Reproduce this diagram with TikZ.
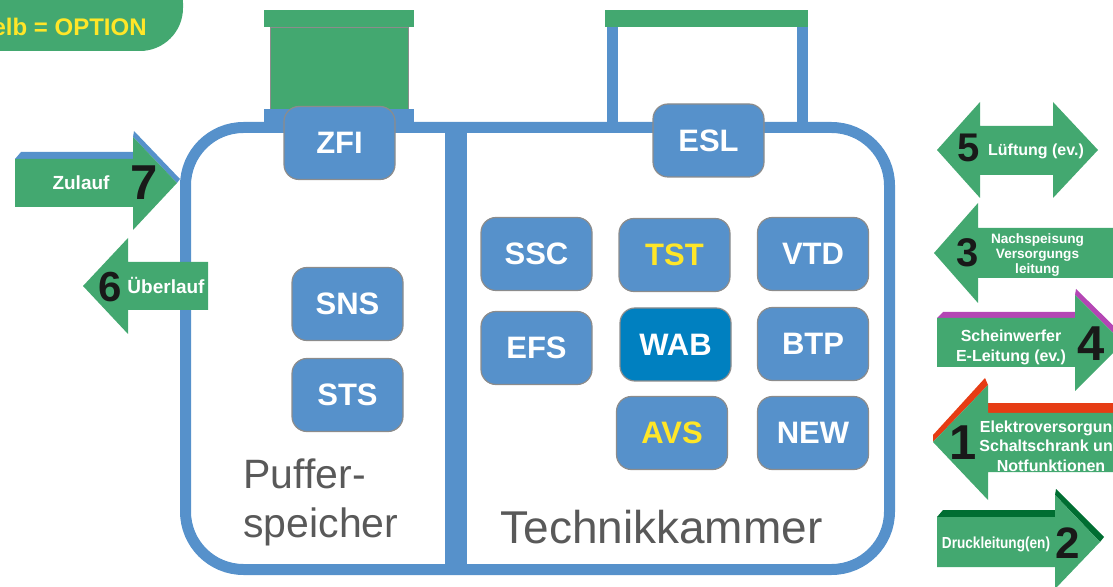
\documentclass[tikz,border=0pt]{standalone}
\usepackage{fontspec}
\setmainfont{Liberation Sans}
\definecolor{hullblue}{RGB}{86,145,203}
\definecolor{wabblue}{RGB}{0,128,192}
\definecolor{pipegreen}{RGB}{67,168,112}
\definecolor{optyellow}{RGB}{255,230,40}
\definecolor{labelgray}{RGB}{89,89,89}
\definecolor{edgegray}{RGB}{140,140,140}
\definecolor{lilac}{RGB}{180,70,180}
\definecolor{rust}{RGB}{230,60,20}
\definecolor{darkgreen}{RGB}{0,110,50}
\newcommand{\groesse}[1]{\fontsize{#1}{#1}\selectfont}

\begin{document}
\begin{tikzpicture}[x=0.5pt, y=-0.5pt,
	kasten/.style={rounded corners=7.5pt, fill=hullblue, draw=edgegray, line width=0.6pt,
		minimum width=55.5pt, minimum height=36.5pt, inner sep=0pt, text=white,
		font=\bfseries\groesse{15.5}},
	ziffer/.style={inner sep=0pt, text=black!90, font=\bfseries\groesse{24.5}},
	schrift/.style={inner sep=0pt, text=white, align=center, font=\bfseries\fontsize{8}{9.8}\selectfont},
	raum/.style={inner sep=0pt, anchor=base west, text=labelgray, font=\groesse{20.5}}]
	\useasboundingbox (0,0) rectangle (1113,587);
% LEGENDE
	\fill [pipegreen, rounded corners=21.5pt] (-40,-40) rectangle (183,51);
	\node [inner sep=0pt, anchor=east, text=optyellow, font=\bfseries\groesse{12}] (legende) at (147,27) {Gelb = OPTION};
% AUFBAUTEN
	\fill [pipegreen] (264,10) rectangle (414,27);
	\filldraw [fill=pipegreen, draw=edgegray, line width=0.4pt] (270,27) rectangle (408,109);
	\fill [hullblue] (264,109) rectangle (414,127);
	\fill [pipegreen] (605,10) rectangle (808,27);
	\fill [hullblue] (607,27) rectangle (618,127);
	\fill [hullblue] (797,27) rectangle (808,127);
% GEHAEUSE
	\draw [hullblue, line width=5.5pt, rounded corners=29pt] (185.5,127.5) rectangle (889.5,569.5);
	\fill [hullblue] (445,127.5) rectangle (467,569.5);
	\node [raum] (puffer) at (243,488) {Puffer-};
	\node [raum] (speicher) at (243,537) {speicher};
	\node [raum, font=\groesse{23}] (technik) at (500,543) {Technikkammer};
% MODULE
	\node [kasten] (zfi) at (339.5,143) {ZFI};
	\node [kasten] (esl) at (708.5,140.5) {ESL};
	\node [kasten] (sns) at (347.5,304) {SNS};
	\node [kasten] (sts) at (347.5,395) {STS};
	\node [kasten] (ssc) at (536.5,254) {SSC};
	\node [kasten, text=optyellow] (tst) at (674.5,255) {TST};
	\node [kasten] (vtd) at (813,254) {VTD};
	\node [kasten] (efs) at (536.5,348) {EFS};
	\node [kasten, fill=wabblue] (wab) at (675.5,344.5) {WAB};
	\node [kasten] (btp) at (813,344) {BTP};
	\node [kasten, text=optyellow] (avs) at (672,433) {AVS};
	\node [kasten] (new) at (813,433) {NEW};
% ANSCHLUESSE LINKS
	\fill [hullblue] (15,159) -- (21,152) -- (133,152) -- (133,159) -- cycle;
	\fill [hullblue] (133,137) -- (134,131) -- (180,179) -- (177,183) -- cycle;
	\fill [pipegreen] (15,159) -- (133,159) -- (133,137) -- (177,183) -- (133,230) -- (133,207) -- (15,207) -- cycle;
	\node [schrift, font=\bfseries\groesse{9.5}] (zulauf) at (81,183) {Zulauf};
	\node [ziffer] (n7) at (144,183) {7};
	\fill [pipegreen] (83,286) -- (128,238) -- (128,262) -- (208,262) -- (208,310) -- (128,310) -- (128,334) -- cycle;
	\node [ziffer, font=\bfseries\groesse{21}] (n6) at (110,287) {6};
	\node [schrift, font=\bfseries\groesse{9.5}] (ueberlauf) at (166,285) {Überlauf};
% ANSCHLUESSE RECHTS
	\fill [pipegreen] (937,150) -- (980,102) -- (980,126) -- (1053,126) -- (1053,102) -- (1098,150) -- (1053,198) -- (1053,175) -- (980,175) -- (980,198) -- cycle;
	\node [ziffer, font=\bfseries\groesse{20}] (n5) at (969,148) {5};
	\node [schrift] (lueftung) at (1036,151) {Lüftung (ev.)};
	\fill [pipegreen] (934,253) -- (978,203) -- (978,228) -- (1120,228) -- (1120,278) -- (978,278) -- (978,303) -- cycle;
	\node [ziffer, font=\bfseries\groesse{20}] (n3) at (968,253) {3};
	\node [schrift, font=\bfseries\fontsize{6.8}{7.6}\selectfont] (nachspeisung) at (1037.5,255) {Nachspeisung\\Versorgungs\\leitung};
	\fill [lilac] (937,318) -- (943,312) -- (1075,312) -- (1075,318) -- cycle;
	\fill [lilac] (1075,295) -- (1076,289) -- (1127,339) -- (1123,343) -- cycle;
	\fill [pipegreen] (937,318) -- (1075,318) -- (1075,295) -- (1123,343) -- (1075,391) -- (1075,367) -- (937,367) -- cycle;
	\node [schrift, font=\bfseries\fontsize{8}{10}\selectfont] (scheinwerfer) at (1011,347) {Scheinwerfer\\E-Leitung (ev.)};
	\node [ziffer] (n4) at (1091,344) {4};
	\fill [rust] (988,403) rectangle (1120,413);
	\fill [rust] (933,442) -- (933,435) -- (985,378) -- (988,385) -- cycle;
	\fill [pipegreen] (933,442) -- (988,385) -- (988,413) -- (1120,413) -- (1120,472) -- (988,472) -- (988,500) -- cycle;
	\node [ziffer] (n1) at (963,443) {1};
	\node [schrift] (elektro) at (1051,446) {Elektroversorgung\\Schaltschrank und\\Notfunktionen};
	\fill [darkgreen] (937,517) -- (943,510) -- (1055,510) -- (1055,517) -- cycle;
	\fill [darkgreen] (1055,495) -- (1056,489) -- (1104,537) -- (1100,542) -- cycle;
	\fill [pipegreen] (937,517) -- (1055,517) -- (1055,495) -- (1100,542) -- (1055,589) -- (1055,567) -- (937,567) -- cycle;
	\node [schrift] (druck) at (996,544) {\scalebox{0.85}[1]{Druckleitung(en)}};
	\node [ziffer, font=\bfseries\groesse{22}] (n2) at (1068,543) {2};
\end{tikzpicture}
\end{document}
